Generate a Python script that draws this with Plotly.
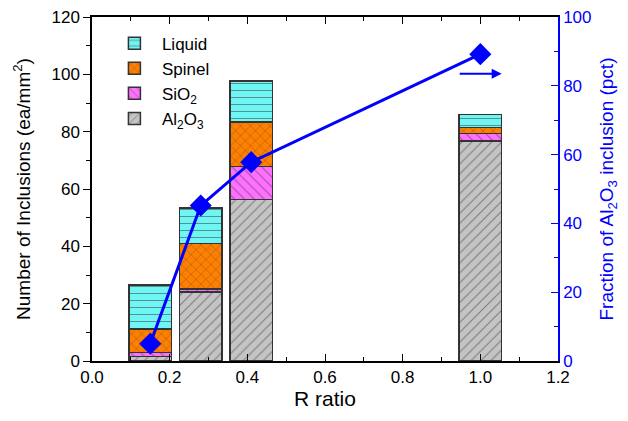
import plotly.graph_objects as go

# ---- data ----
r_ratio = [0.15, 0.28, 0.41, 1.0]
al2o3 = [1.5, 24.0, 56.4, 76.7]
sio2 = [1.5, 1.1, 11.4, 2.7]
spinel = [8.2, 15.9, 15.6, 2.0]
liquid = [15.3, 12.3, 14.3, 4.6]
al2o3_fraction = [5.0, 45.2, 57.8, 89.2]

font_family = "Liberation Sans, Arial, sans-serif"

fig = go.Figure()

series = [
    ("Al<sub>2</sub>O<sub>3</sub>", al2o3, "#c4c4c4", "/"),
    ("SiO<sub>2</sub>", sio2, "#ff70ff", "\\"),
    ("Spinel", spinel, "#ff8000", "x"),
    ("Liquid", liquid, "#70f5f5", "-"),
]
for name, vals, col, shp in series:
    fig.add_trace(go.Bar(
        x=r_ratio, y=vals, name=name, width=0.11,
        marker=dict(color=col, line=dict(color="#333333", width=1.5),
                    pattern=dict(shape=shp, fgcolor="#333333", size=7,
                                 solidity=0.15, fillmode="overlay")),
        yaxis="y",
    ))

fig.add_trace(go.Scatter(
    x=r_ratio, y=al2o3_fraction, mode="lines+markers", yaxis="y2",
    line=dict(color="#0000ff", width=3),
    marker=dict(symbol="diamond", size=17, color="#0000ff"),
    showlegend=False,
))

fig.add_annotation(x=1.055, y=83.5, ax=0.943, ay=83.5, xref="x", yref="y2",
                   axref="x", ayref="y2", showarrow=True, arrowhead=2,
                   arrowsize=1, arrowwidth=2, arrowcolor="#0000ff", text="")

# page body adds an 8px offset; margins compensate for it
fig.update_layout(
    width=628, height=421,
    margin=dict(l=84, r=78, t=9, b=68, autoexpand=False),
    paper_bgcolor="white", plot_bgcolor="white",
    barmode="stack",
    font=dict(family=font_family, size=17, color="black"),
    legend=dict(x=0.032, y=0.975, xanchor="left", yanchor="top",
                traceorder="reversed", bgcolor="rgba(0,0,0,0)",
                font=dict(size=17), itemwidth=45, tracegroupgap=0),
    xaxis=dict(range=[0, 1.2], dtick=0.2, tickformat=".1f", automargin=False,
               ticks="inside", ticklen=7, tickcolor="black",
               showline=True, linecolor="black", linewidth=1.5,
               mirror="ticks", showgrid=False, zeroline=False,
               ticklabeloverflow="allow",
               minor=dict(dtick=0.1, ticks="inside", ticklen=4, tickcolor="black"),
               title=dict(text="R ratio", font=dict(size=21), standoff=2),
               tickfont=dict(size=17)),
    yaxis=dict(range=[0, 120], dtick=20, ticks="outside", ticklen=7, automargin=False,
               tickcolor="black", showline=True, linecolor="black",
               linewidth=1.5, showgrid=False, zeroline=False,
               ticklabeloverflow="allow",
               minor=dict(dtick=10, ticks="outside", ticklen=4, tickcolor="black"),
               title=dict(text="Number of Inclusions (ea/mm<sup>2</sup>)",
                          font=dict(size=19), standoff=16),
               tickfont=dict(size=17)),
    yaxis2=dict(range=[0, 100], dtick=20, overlaying="y", side="right", automargin=False,
                ticks="inside", ticklen=7, tickcolor="#0000ff",
                showline=True, linecolor="#0000ff", linewidth=1.5,
                showgrid=False, zeroline=False,
                ticklabeloverflow="allow",
                minor=dict(dtick=10, ticks="inside", ticklen=4, tickcolor="#0000ff"),
                tickfont=dict(size=17, color="#0000ff"),
                title=dict(text="Fraction of Al<sub>2</sub>O<sub>3</sub> inclusion (pct)",
                           font=dict(size=19, color="#0000ff"), standoff=9)),
)

fig.write_html("out.html")
